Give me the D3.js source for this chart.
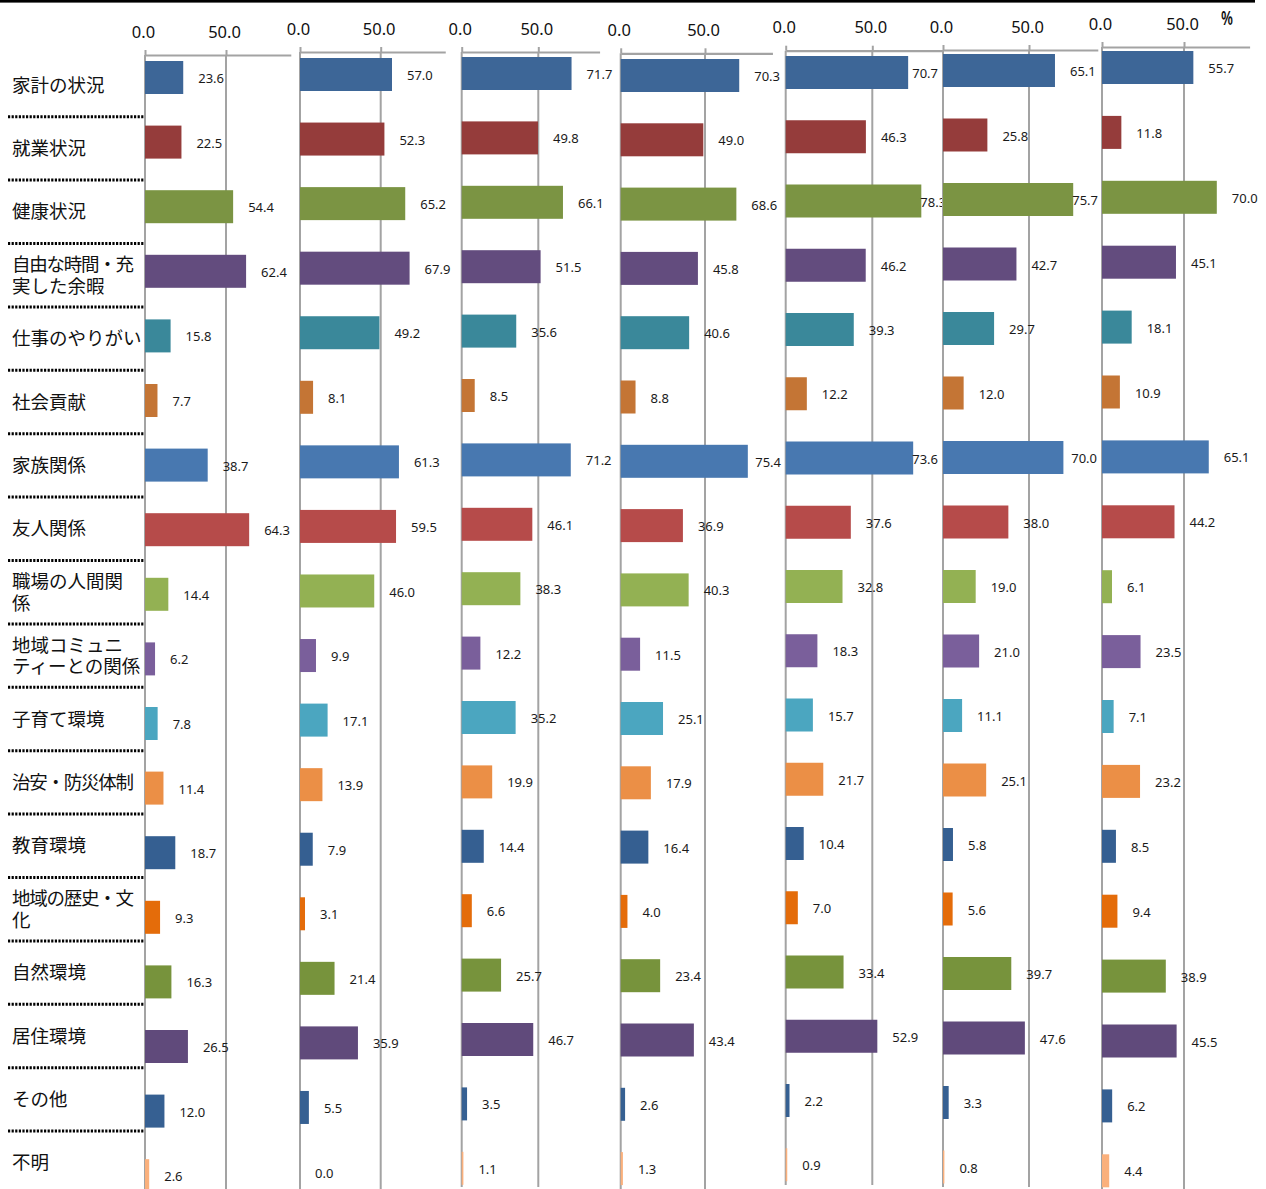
<!DOCTYPE html>
<html>
<head>
<meta charset="utf-8">
<script src="https://cdn.jsdelivr.net/npm/d3@7"></script>
<style>
  html, body { margin: 0; padding: 0; background: #fff; }
  svg { display: block; }
</style>
</head>
<body>
<svg id="chart" width="1266" height="1189"></svg>
<script>
// ---------- data ----------
const categories = [
  "家計の状況", "就業状況", "健康状況", "自由な時間・充\n実した余暇", "仕事のやりがい",
  "社会貢献", "家族関係", "友人関係", "職場の人間関\n係", "地域コミュニ\nティーとの関係",
  "子育て環境", "治安・防災体制", "教育環境", "地域の歴史・文\n化", "自然環境",
  "居住環境", "その他", "不明"
];
const categoryColors = [
  "#3d6697", "#953c3b", "#7b9443", "#634c7e", "#3a889a",
  "#c47535", "#4878b0", "#b64b4a", "#93b153", "#7a5f9b",
  "#4ba6c0", "#eb8f46", "#355f91", "#e46c0a", "#77933c",
  "#604a7b", "#366092", "#fab07c"
];
const tickValues = [0, 50];
const axisMax = 90;

const panel1 = [23.6, 22.5, 54.4, 62.4, 15.8, 7.7, 38.7, 64.3, 14.4, 6.2, 7.8, 11.4, 18.7, 9.3, 16.3, 26.5, 12.0, 2.6];
const panel2 = [57.0, 52.3, 65.2, 67.9, 49.2, 8.1, 61.3, 59.5, 46.0, 9.9, 17.1, 13.9, 7.9, 3.1, 21.4, 35.9, 5.5, 0.0];
const panel3 = [71.7, 49.8, 66.1, 51.5, 35.6, 8.5, 71.2, 46.1, 38.3, 12.2, 35.2, 19.9, 14.4, 6.6, 25.7, 46.7, 3.5, 1.1];
const panel4 = [70.3, 49.0, 68.6, 45.8, 40.6, 8.8, 75.4, 36.9, 40.3, 11.5, 25.1, 17.9, 16.4, 4.0, 23.4, 43.4, 2.6, 1.3];
const panel5 = [70.7, 46.3, 78.3, 46.2, 39.3, 12.2, 73.6, 37.6, 32.8, 18.3, 15.7, 21.7, 10.4, 7.0, 33.4, 52.9, 2.2, 0.9];
const panel6 = [65.1, 25.8, 75.7, 42.7, 29.7, 12.0, 70.0, 38.0, 19.0, 21.0, 11.1, 25.1, 5.8, 5.6, 39.7, 47.6, 3.3, 0.8];
const panel7 = [55.7, 11.8, 70.0, 45.1, 18.1, 10.9, 65.1, 44.2, 6.1, 23.5, 7.1, 23.2, 8.5, 9.4, 38.9, 45.5, 6.2, 4.4];
const series = [panel1, panel2, panel3, panel4, panel5, panel6, panel7];

// ---------- layout (positions only) ----------
const layout = [
  { zero: 145,   fifty: 226,   axisY: 55,   top: 61, step: 64.6,  bottom: 1189, clampR: 292 },
  { zero: 300,   fifty: 380.7, axisY: 52,   top: 58, step: 64.56, bottom: 1189, clampR: 455 },
  { zero: 461.7, fifty: 538.3, axisY: 52,   top: 57, step: 64.4,  bottom: 1187, clampR: 615 },
  { zero: 620.7, fifty: 705,   axisY: 53.3, top: 59, step: 64.3,  bottom: 1189, clampR: 781 },
  { zero: 785.7, fifty: 872.3, axisY: 50.7, top: 56, step: 64.25, bottom: 1185, clampR: 938 },
  { zero: 943,   fifty: 1029,  axisY: 50,   top: 54, step: 64.5,  bottom: 1187, clampR: 1097 },
  { zero: 1102,  fifty: 1184,  axisY: 47,   top: 51, step: 64.9,  bottom: 1189, clampR: 1262 }
];
const barH = 33;
const gridColor = "#a3a3a3";
const numFont = "'Noto Sans', 'Open Sans', sans-serif";
const jpFont = "'Noto Sans CJK JP', 'Noto Sans', sans-serif";

const svg = d3.select("#chart");

// top black rule
svg.append("rect").attr("x", 0).attr("y", 0).attr("width", 1255).attr("height", 2.6).attr("fill", "#000");

// ---------- category label column ----------
const labelBand = d3.scaleBand().domain(categories).range([53.3, 53.3 + 18 * 63.4]).padding(0);
const labelG = svg.append("g");
categories.forEach((c, i) => {
  const lines = c.split("\n");
  const cy = labelBand(c) + labelBand.bandwidth() / 2;
  lines.forEach((ln, j) => {
    const off = (j - (lines.length - 1) / 2) * 21.5;
    const t = labelG.append("text")
      .attr("x", 12)
      .attr("y", cy + off)
      .attr("dy", "0.36em")
      .attr("font-family", jpFont)
      .attr("font-size", 18.5)
      .attr("fill", "#111")
      .text(ln);
    // the reference uses a narrow middle dot: tighten those lines
    if (ln.includes("・")) {
      t.attr("textLength", 122).attr("lengthAdjust", "spacing");
    }
  });
  if (i > 0) {
    labelG.append("line")
      .attr("x1", 8).attr("x2", 145)
      .attr("y1", labelBand(c)).attr("y2", labelBand(c))
      .attr("stroke", "#000").attr("stroke-width", 3)
      .attr("stroke-dasharray", "2.2,1.4");
  }
});

// ---------- panels ----------
series.forEach((vals, p) => {
  const L = layout[p];
  const x = d3.scaleLinear().domain([0, axisMax])
    .range([L.zero, L.zero + (L.fifty - L.zero) * axisMax / 50]);
  const pad = 1 - barH / L.step;
  const r0 = L.top - pad / 2 * L.step;
  const y = d3.scaleBand().domain(categories)
    .range([r0, r0 + 18 * L.step])
    .paddingInner(pad)
    .paddingOuter(pad / 2);

  const g = svg.append("g");

  // gridlines
  g.append("g").selectAll("line").data(tickValues).join("line")
    .attr("x1", d => x(d)).attr("x2", d => x(d))
    .attr("y1", L.axisY).attr("y2", L.bottom)
    .attr("stroke", gridColor).attr("stroke-width", 2);

  // axis at top
  const ax = g.append("g").attr("transform", `translate(0,${L.axisY})`)
    .call(d3.axisTop(x).tickValues(tickValues).tickFormat(d3.format(".1f"))
      .tickSize(5).tickSizeOuter(0).tickPadding(12.5));
  ax.select(".domain").attr("stroke", gridColor).attr("stroke-width", 2.2);
  ax.selectAll(".tick line").attr("stroke", gridColor).attr("stroke-width", 2);
  ax.selectAll(".tick text")
    .attr("font-family", numFont).attr("font-size", 16.5).attr("fill", "#111")
    .attr("dx", -2);

  // bars
  g.append("g").selectAll("rect").data(vals).join("rect")
    .attr("x", x(0))
    .attr("y", (d, i) => y(categories[i]))
    .attr("width", d => x(d) - x(0))
    .attr("height", y.bandwidth())
    .attr("fill", (d, i) => categoryColors[i]);

  // value labels
  g.append("g").selectAll("text").data(vals).join("text")
    .attr("y", (d, i) => y(categories[i]) + y.bandwidth() / 2 + 1)
    .attr("dy", "0.35em")
    .attr("font-family", numFont).attr("font-size", 13).attr("fill", "#1a1a1a")
    .text(d => d3.format(".1f")(d))
    .each(function (d) {
      const w = this.getComputedTextLength();
      const end = x(d);
      let lx = Math.min(end + 15, L.clampR - w);
      lx = Math.max(lx, end - 1);
      d3.select(this).attr("x", lx);
    });
});

// percent unit
svg.append("text")
  .attr("font-family", numFont).attr("font-size", 19).attr("font-weight", 600).attr("fill", "#111")
  .attr("transform", "translate(1221,25) scale(0.72,1)")
  .text("%");
</script>
</body>
</html>
